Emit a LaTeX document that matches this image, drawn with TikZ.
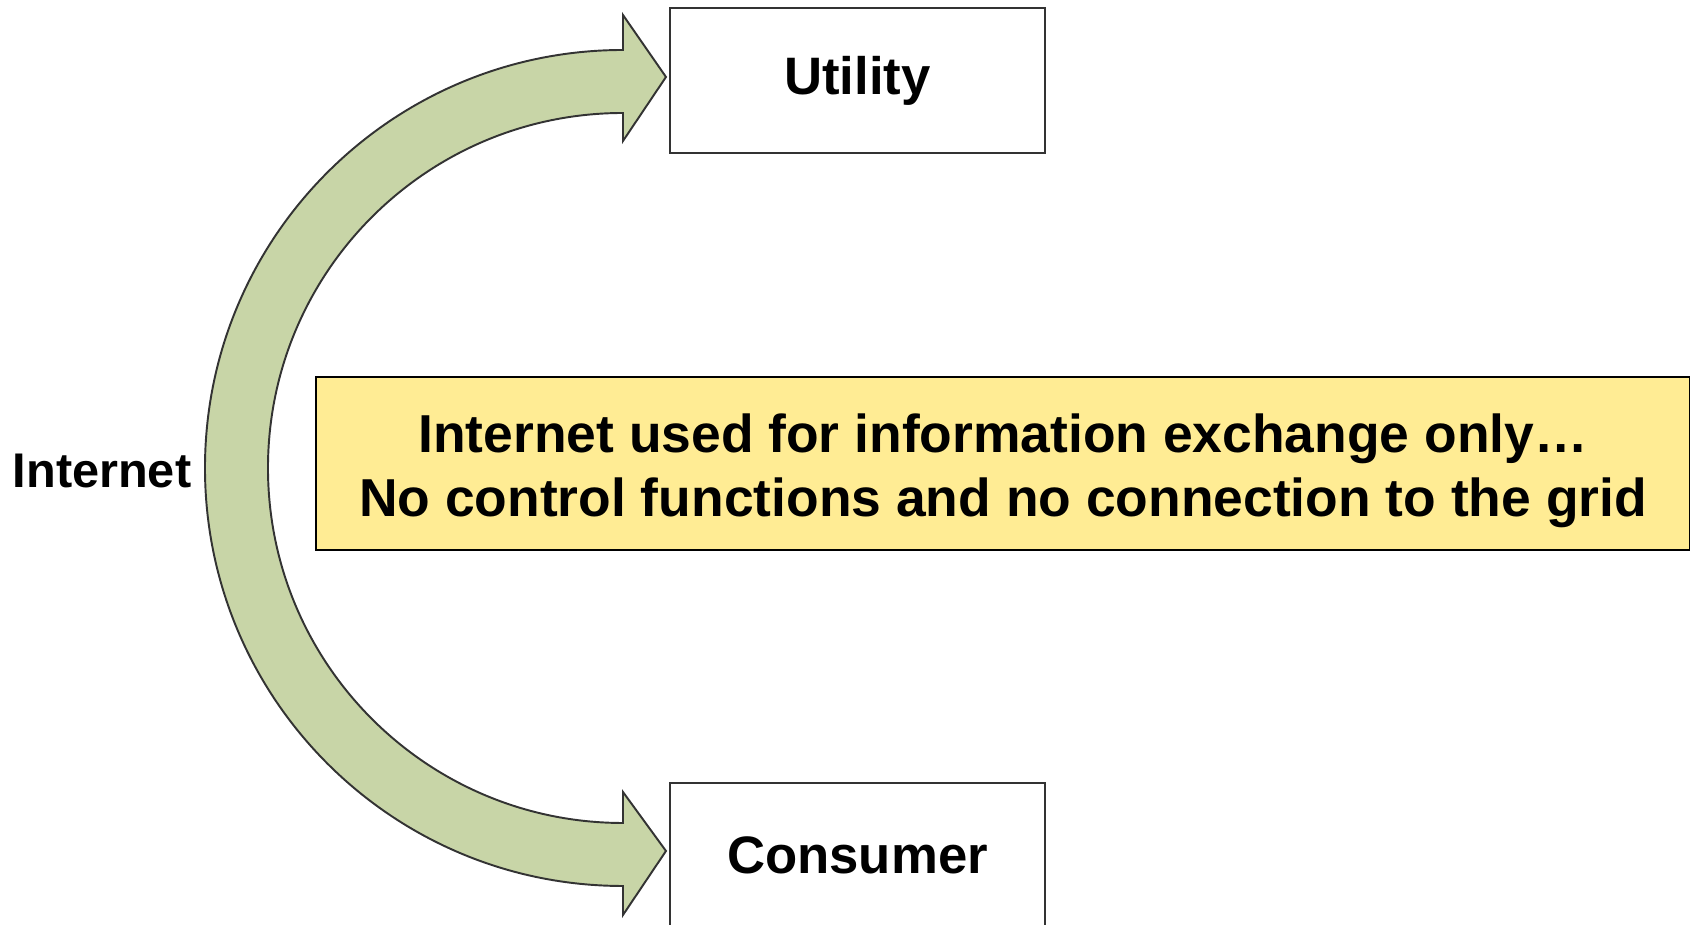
\documentclass[tikz,border=0pt]{standalone}
\usepackage{fontspec}
\setmainfont{Liberation Sans}
\usetikzlibrary{positioning,calc}

\definecolor{arrowgreen}{HTML}{C8D5A7}
\definecolor{notefill}{HTML}{FFEC94}
\definecolor{edgegray}{HTML}{333333}

\begin{document}
\begin{tikzpicture}[x=0.02cm, y=0.02cm]
    \tikzstyle{party}=[rectangle, draw=edgegray, line width=1.2pt, fill=white, inner sep=0pt, minimum width=7.5cm, minimum height=2.9cm, font=\fontsize{30}{36}\selectfont\bfseries]
    \tikzstyle{note}=[rectangle, draw=black, line width=1pt, fill=notefill, inner sep=0pt, minimum width=27.48cm, minimum height=3.46cm, align=center, font=\fontsize{30.4}{36.4}\selectfont\bfseries]
    \tikzstyle{label}=[font=\fontsize{27.7}{34}\selectfont\bfseries]
    \tikzstyle{bigarrow}=[draw=edgegray, line width=1.1pt, fill=arrowgreen, line join=miter]

    \useasboundingbox (0,0) rectangle (1690,925);

    % Parties
    \node[party] (utility) at (857.5,844.5) {Utility};
    \node[party] (consumer) at (857.5,69.5) {Consumer};

    % Note
    \node[note] (note) at (1003,461.5) {\rule{0pt}{30pt}Internet used for information exchange only\dots\\No control functions and no connection to the grid};

    % Curved arrow
    \coordinate (hub) at ($(utility.west)!0.5!(consumer.west)+(-46,0)$);
    \begin{scope}[shift={(hub)}]
        \draw[bigarrow] (0,418) arc[start angle=90, end angle=270, radius=418]
            -- (0,-447) -- (43,-383) -- (0,-324) -- (0,-355)
            arc[start angle=270, end angle=90, radius=355]
            -- (0,327) -- (43,391) -- (0,453) -- cycle;
    \end{scope}

    \node[label] (internet) at (102,454) {Internet};
\end{tikzpicture}
\end{document}
